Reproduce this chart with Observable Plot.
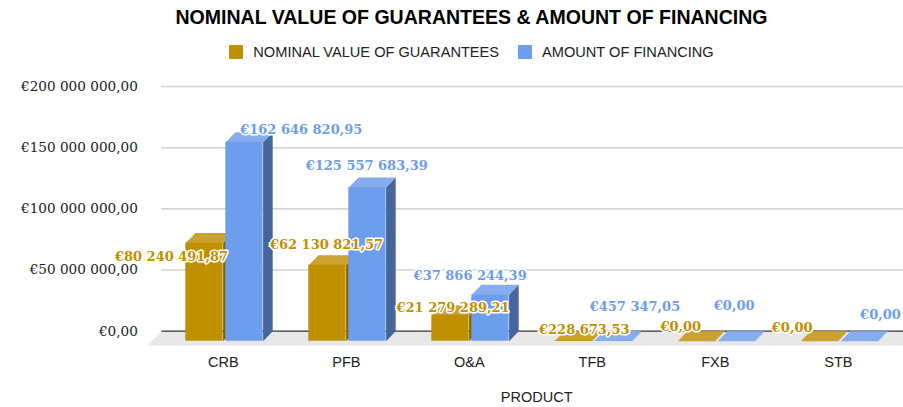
<!DOCTYPE html>
<html>
<head>
<meta charset="utf-8">
<script src="https://cdn.jsdelivr.net/npm/d3@7"></script>
<script src="https://cdn.jsdelivr.net/npm/@observablehq/plot@0.6"></script>
<style>
  body { margin: 0; background: #fff; font-family: "Liberation Sans", Arial, sans-serif; }
  #wrap { width: 903px; height: 407px; position: relative; overflow: hidden; }
  #hdr { position: relative; width: 903px; height: 70px; }
  #title { position: absolute; left: 40px; right: 0; top: 7px; text-align: center;
           font: bold 19.55px "Liberation Sans", Arial, sans-serif; line-height: 20px; color: #000; }
  #legend { position: absolute; left: 40px; right: 0; top: 44px; height: 16px;
            display: flex; justify-content: center; align-items: center;
            font: 14.6px "Liberation Sans", Arial, sans-serif; color: #222; }
  .sw { width: 14px; height: 14px; margin-right: 10px; }
  .item { display: flex; align-items: center; }
  .item + .item { margin-left: 19px; }
  svg { display: block; }
</style>
</head>
<body>
<div id="wrap">
  <div id="hdr">
    <div id="title"></div>
    <div id="legend"></div>
  </div>
  <div id="chart"></div>
</div>
<script>
// ---- data ----
const title = "NOMINAL VALUE OF GUARANTEES & AMOUNT OF FINANCING";
const categories = ["CRB", "PFB", "O&A", "TFB", "FXB", "STB"];
const seriesNames = ["NOMINAL VALUE OF GUARANTEES", "AMOUNT OF FINANCING"];
const guarantees = [80240491.87, 62130821.57, 21279289.21, 228673.53, 0, 0];
const financing = [162646820.95, 125557683.39, 37866244.39, 457347.05, 0, 0];
const yTicks = [0, 50000000, 100000000, 150000000, 200000000];
const xLabel = "PRODUCT";

// ---- styles ----
const colors = [
  {front: "#BF9000", top: "#C9A231", side: "#876600"},
  {front: "#6D9EEB", top: "#86AEEF", side: "#46659C"}
];

document.getElementById("title").textContent = title;
const lg = document.getElementById("legend");
seriesNames.forEach((n, k) => {
  const it = document.createElement("div"); it.className = "item";
  const sw = document.createElement("div"); sw.className = "sw"; sw.style.background = colors[k].front;
  const tx = document.createElement("span"); tx.textContent = n;
  it.appendChild(sw); it.appendChild(tx); lg.appendChild(it);
});

const loc = d3.formatLocale({decimal: ",", thousands: " ", grouping: [3], currency: ["€", ""]});
const fmt = loc.format("$,.2f");

// ---- layout ----
const W = 903, H = 337, mL = 161.3, mR = 0, mT = 16, mB = 76.3;
const xDom = [-0.5, 5.53], yDom = [0, 200000000];
const pxX = p => p * (xDom[1] - xDom[0]) / (W - mL - mR);   // pixels -> x units
const pxY = p => p * (yDom[1] - yDom[0]) / (H - mT - mB);   // pixels -> y units
const depthX = pxX(9.6), depthY = pxY(10);
const barX = [[-37.5, -0.2], [2.5, 39.8]]; // front-face extents around category centre, px

const series = [guarantees, financing];
const fronts = [], tops = [], sides = [];
series.forEach((vals, k) => {
  fronts[k] = []; tops[k] = []; sides[k] = [];
  vals.forEach((v, i) => {
    const x1 = i + pxX(barX[k][0]), x2 = i + pxX(barX[k][1]);
    const yt = v - depthY, yb = -depthY;
    fronts[k].push({x1, x2, y1: yb, y2: yt, v, i});
    const id = categories[i];
    tops[k].push({id, x: x1, y: yt}, {id, x: x2, y: yt}, {id, x: x2 + depthX, y: v}, {id, x: x1 + depthX, y: v});
    sides[k].push({id, x: x2, y: yt}, {id, x: x2 + depthX, y: v}, {id, x: x2 + depthX, y: 0}, {id, x: x2, y: yb});
  });
});

const fdx = pxX(-14.6), fdy = pxY(14.3);
const floor = [
  {x: xDom[0], y: 0}, {x: xDom[1], y: 0},
  {x: xDom[1], y: -fdy}, {x: xDom[0] + fdx, y: -fdy}
];

// label nudges (px) relative to the front-top centre of each bar
const nudges = [
  [[-33, 13.4], [-1, -20.6], [2.6, -7.4], [10.8, -11.4], [-15.7, -14], [-27.3, -13.7]],
  [[56.8, -12.4], [-0.7, -22], [-20.3, -19.4], [21.5, -33.4], [-2.3, -35], [21, -26]]
];

const marks = [
  Plot.line(floor, {x: "x", y: "y", fill: "#E8E8E8", stroke: "none"}),
  Plot.ruleY(yTicks.filter(d => d > 0), {stroke: "#D3D3D3", strokeWidth: 1.6}),
  Plot.ruleY([0], {stroke: "#333", strokeWidth: 1.2}),
  Plot.text(yTicks, {y: d => d, text: d => fmt(d), frameAnchor: "left", textAnchor: "end", dx: -24,
    fontFamily: "DejaVu Serif", fontSize: 13.6, fill: "#222"}),
  Plot.text(categories, {x: (d, i) => i, y: () => 0, text: d => d, dy: 31.5,
    fontFamily: "Liberation Sans", fontSize: 14.5, fill: "#222"}),
  Plot.text([xLabel], {frameAnchor: "bottom", text: d => d, dx: 4, dy: 71,
    fontFamily: "Liberation Sans", fontSize: 14.5, fill: "#222"})
];
series.forEach((vals, k) => {
  marks.push(
    Plot.line(sides[k], {x: "x", y: "y", z: "id", fill: colors[k].side, stroke: "none"}),
    Plot.line(tops[k], {x: "x", y: "y", z: "id", fill: colors[k].top, stroke: "none"}),
    Plot.rect(fronts[k], {x1: "x1", x2: "x2", y1: "y1", y2: "y2", fill: colors[k].front})
  );
});
series.forEach((vals, k) => {
  vals.forEach((v, i) => {
    const f = fronts[k][i];
    marks.push(Plot.text([v], {
      x: () => (f.x1 + f.x2) / 2, y: () => f.y2, text: d => fmt(d),
      dx: nudges[k][i][0], dy: nudges[k][i][1],
      fontFamily: "DejaVu Serif", fontWeight: "bold", fontSize: 13,
      fill: colors[k].front, stroke: "white", strokeWidth: 3, paintOrder: "stroke"
    }));
  });
});

const chart = Plot.plot({
  width: W, height: H,
  marginLeft: mL, marginRight: mR, marginTop: mT, marginBottom: mB,
  x: {type: "linear", domain: xDom, axis: null},
  y: {type: "linear", domain: yDom, axis: null},
  style: {fontFamily: "Liberation Sans", background: "white", overflow: "visible"},
  marks
});
document.getElementById("chart").appendChild(chart);
</script>
</body>
</html>
